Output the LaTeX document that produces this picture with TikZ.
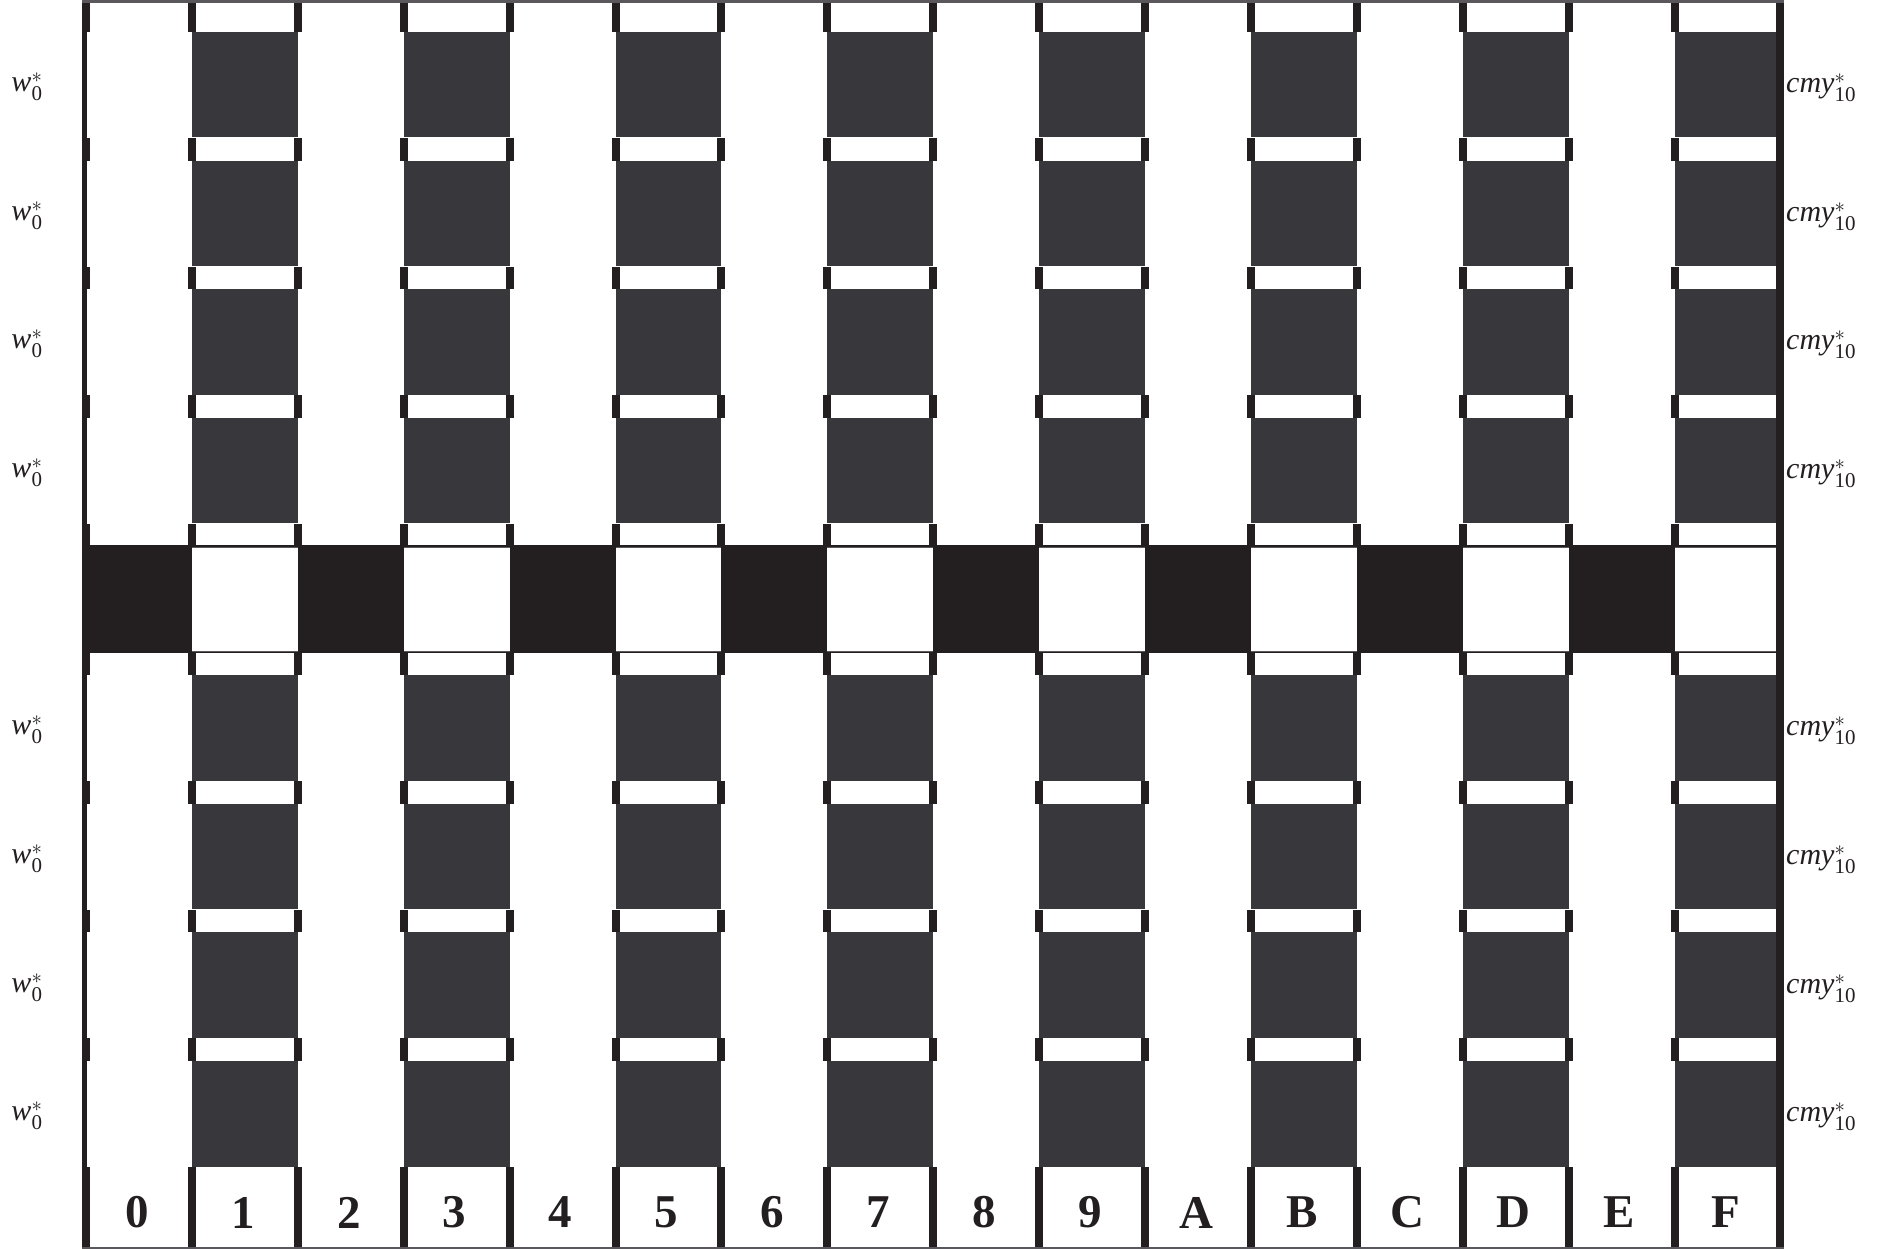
\documentclass[tikz,border=0pt]{standalone}
\usepackage{amsmath}
\usepackage{fontspec}
\setmainfont{Liberation Serif}
\definecolor{dk}{HTML}{38373C}
\definecolor{bk}{HTML}{231F20}
\definecolor{ln}{HTML}{5A585C}
\tikzset{
  darkcell/.style={fill=dk},
  tickbar/.style={fill=bk},
  leftlbl/.style={font=\fontsize{30}{33}\selectfont, inner sep=0pt, anchor=center, text=bk},
  rightlbl/.style={font=\fontsize{30}{33}\selectfont, inner sep=0pt, anchor=west, text=bk},
  collbl/.style={font=\fontsize{47}{50}\selectfont\bfseries, inner sep=0pt, anchor=center, text=bk}
}
\begin{document}
\begin{tikzpicture}[x=1pt,y=-1pt]
\useasboundingbox (0,0) rectangle (1877,1249);
\fill[white] (0,0) rectangle (1877,1249);
% dark cells in odd columns
\foreach \i in {1,3,...,15} {
  \foreach \y in {32,160.6,289.2,417.8,675,803.7,932.4,1061.1} {
    \fill[darkcell] ({86+105.9*\i},\y) rectangle ({86+105.9*(\i+1)},{\y+105.5});
  }
}
% black band
\fill[bk] (82,545) rectangle (1780,653);
\foreach \i in {1,3,...,15} {
  \fill[white] ({86+105.9*\i},547.3) rectangle ({86+105.9*(\i+1)},651.3);
  \fill[ln] ({86+105.9*\i},547.3) rectangle ({86+105.9*(\i+1)},548.2);
  \fill[ln] ({86+105.9*\i},650.7) rectangle ({86+105.9*(\i+1)},651.3);
}
% ticks in the gap rows
\foreach \ya/\yb in {3/32,138/160.6,266.6/289.2,395.2/417.8,523.8/545,653/675,781/803.7,909.7/932.4,1038.4/1061.1,1166.6/1249} {
  \foreach \i in {0,...,15} {
    \fill[tickbar] ({86+105.9*\i-4},\ya) rectangle ({86+105.9*\i+4},\yb);
  }
}
% borders
\fill[bk] (82,3) rectangle (87,1249);
\fill[bk] (1776,3) rectangle (1784,1249);
\fill[ln] (82,0) rectangle (1784,2.6);
\fill[ln] (82,1247.2) rectangle (1784,1249);
% left and right labels
\foreach \y [count=\k] in {85,213.6,342.2,470.8,728,856.7,985.4,1113.6} {
  \node[leftlbl] (w\k) at (27,\y+2) {$\textit{w}^{*}_{\text{0}}$};
  \node[rightlbl] (c\k) at (1786,\y+3) {$\textit{cmy}^{*}_{\text{10}}$};
}
% column labels
\foreach \t [count=\k from 0] in {0,1,2,3,4,5,6,7,8,9,A,B,C,D,E,F} {
  \node[collbl] (n\k) at ({86+105.9*\k+51},1212.5) {\t};
}
\end{tikzpicture}
\end{document}
